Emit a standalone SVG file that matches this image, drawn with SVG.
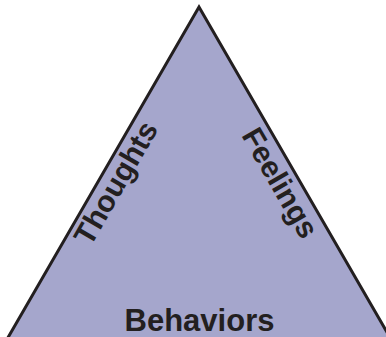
<svg xmlns="http://www.w3.org/2000/svg" width="386" height="337" viewBox="0 0 386 337">
<style>
.lbl{font-family:"Liberation Sans",Arial,sans-serif;font-weight:bold;fill:#231f20;text-anchor:middle}
</style>
<rect width="386" height="337" fill="#ffffff"/>
<g id="triangle">
<polygon points="199,7 6,341 392,341" fill="#a5a6cc" stroke="#231f20" stroke-width="3" stroke-linejoin="miter"/>
</g>
<g id="thoughts">
<text class="lbl" font-size="30" transform="translate(116,183) rotate(-60)" y="10">Thoughts</text>
</g>
<g id="feelings">
<text class="lbl" font-size="30" transform="translate(280,183) rotate(60)" y="10">Feelings</text>
</g>
<g id="behaviors">
<text class="lbl" font-size="31" x="199.5" y="331">Behaviors</text>
</g>
<g id="connectors"/>
</svg>
